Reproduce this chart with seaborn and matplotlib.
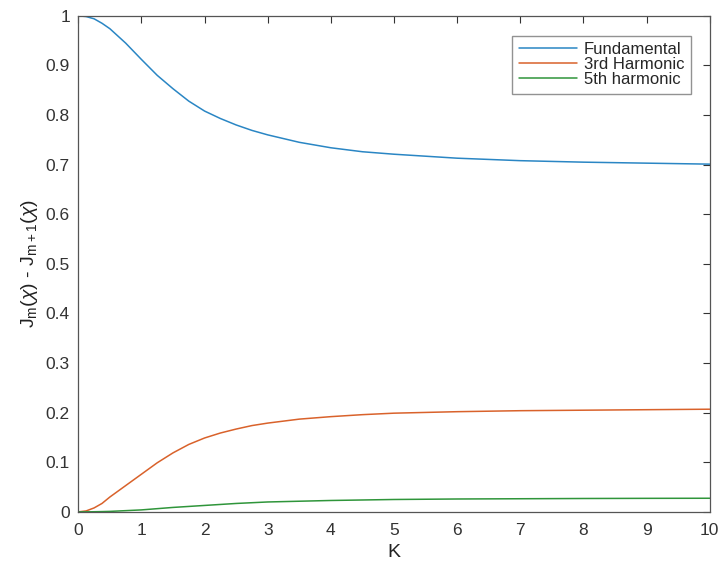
import numpy as np
import pandas as pd
import matplotlib
matplotlib.use("Agg")
import matplotlib.pyplot as plt
import seaborn as sns

K = [0, 0.125, 0.25, 0.375, 0.5, 0.75, 1.0, 1.25, 1.5, 1.75, 2.0, 2.25, 2.5, 2.75, 3.0, 3.5, 4.0, 4.5, 5.0, 6.0, 7.0, 8.0, 9.0, 10.0]
fundamental = [1.0, 0.9985, 0.994, 0.985, 0.974, 0.945, 0.912, 0.88, 0.853, 0.828, 0.808, 0.793, 0.78, 0.769, 0.76, 0.745, 0.734, 0.726, 0.721, 0.713, 0.708, 0.705, 0.703, 0.701]
third = [0.0, 0.002, 0.008, 0.017, 0.03, 0.053, 0.076, 0.099, 0.119, 0.136, 0.149, 0.159, 0.167, 0.174, 0.179, 0.187, 0.192, 0.196, 0.199, 0.202, 0.204, 0.205, 0.206, 0.207]
fifth = [0.0, 0.0001, 0.0003, 0.0006, 0.001, 0.0025, 0.004, 0.0065, 0.009, 0.011, 0.013, 0.015, 0.017, 0.0185, 0.02, 0.0215, 0.023, 0.024, 0.025, 0.026, 0.0265, 0.027, 0.0273, 0.0275]
series_names = ["Fundamental", "3rd Harmonic", "5th harmonic"]
colors = ["#2a86c4", "#d9622b", "#2f953a"]

df = pd.concat([
    pd.DataFrame({"K": K, "value": vals, "series": name})
    for name, vals in zip(series_names, [fundamental, third, fifth])
])

sns.set_style("white")
plt.rcParams["font.family"] = ["Liberation Sans", "DejaVu Sans"]
plt.rcParams["mathtext.fontset"] = "custom"
plt.rcParams["mathtext.rm"] = "Liberation Sans"
plt.rcParams["mathtext.it"] = "Liberation Sans:italic"

fig = plt.figure(figsize=(7.25, 5.65), dpi=100)
ax = fig.add_axes([0.108, 0.094, 0.871, 0.878])

sns.lineplot(data=df, x="K", y="value", hue="series", palette=colors,
             hue_order=series_names, ax=ax, linewidth=1.1, sort=True)

ax.set_xlim(0, 10)
ax.set_ylim(0, 1)
ax.set_xticks(np.arange(0, 11, 1))
ax.set_yticks(np.round(np.arange(0, 1.01, 0.1), 1))
ax.set_xticklabels([str(i) for i in range(11)])
ax.set_yticklabels(["0", "0.1", "0.2", "0.3", "0.4", "0.5", "0.6", "0.7", "0.8", "0.9", "1"])
ax.tick_params(direction="in", length=5, width=0.8, colors="#333333",
               labelsize=12.5, top=True, right=True)
ax.tick_params(axis="x", pad=8)
ax.tick_params(axis="y", pad=6)
for s in ax.spines.values():
    s.set_color("#555555")
    s.set_linewidth(0.9)

ax.set_xlabel("K", fontsize=14, color="#222222", labelpad=4)
ax.set_ylabel(r"J$_\mathregular{m}$($\chi$) - J$_\mathregular{m+1}$($\chi$)", fontsize=14,
              color="#222222", labelpad=4)

leg = ax.legend(loc="upper right", bbox_to_anchor=(0.970, 0.960), borderaxespad=0,
                fontsize=12, frameon=True, fancybox=False, edgecolor="#777777",
                handlelength=3.5, handletextpad=0.4, borderpad=0.4, labelspacing=0.0)
leg.get_frame().set_linewidth(1.0)

fig.savefig("out.png", dpi=100)
